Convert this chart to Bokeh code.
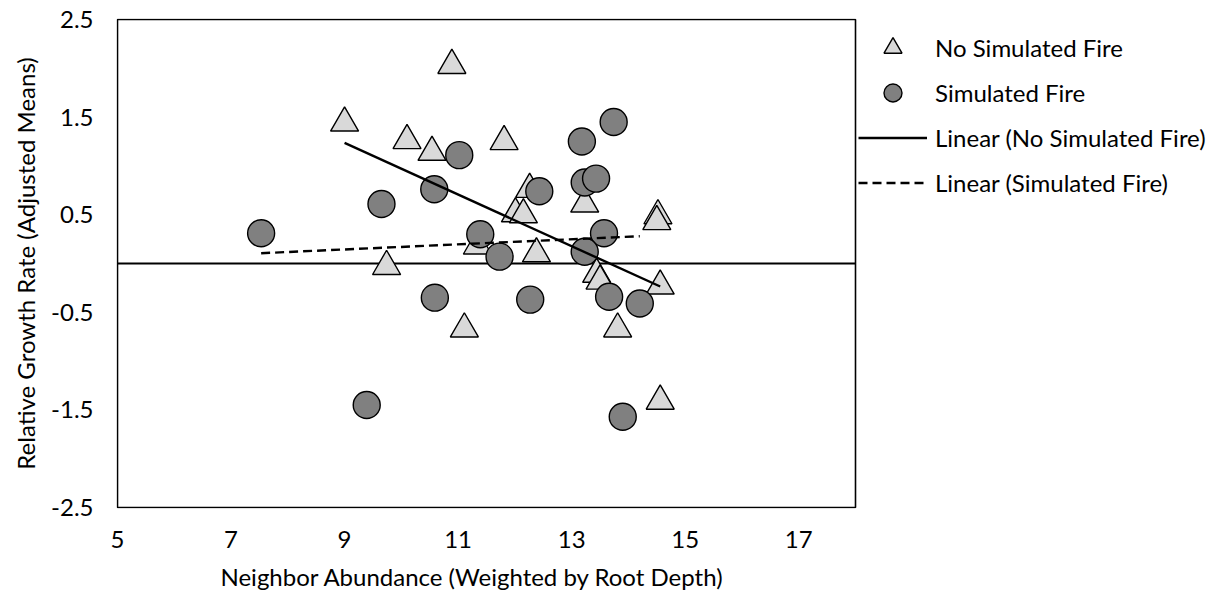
import numpy as np
from bokeh.plotting import figure
from bokeh.models import (Range1d, FixedTicker, Legend, LegendItem, BoxAnnotation,
                          Title, PrintfTickFormatter)
from bokeh.embed import file_html
from bokeh.resources import INLINE

# ---- data ----
no_fire_x = [9.00, 10.89, 10.10, 10.54, 11.81, 9.74, 11.11, 12.38, 11.34, 12.26,
             12.01, 12.15, 13.23, 14.52, 14.50, 13.44, 13.50, 14.56, 13.81, 14.56]
no_fire_y = [1.44, 2.03, 1.26, 1.14, 1.25, -0.03, -0.67, 0.10, 0.18, 0.76,
             0.51, 0.50, 0.61, 0.49, 0.43, -0.11, -0.18, -0.23, -0.67, -1.41]

fire_x = [7.53, 9.65, 10.58, 11.02, 11.39, 11.73, 12.43, 10.59, 12.27, 9.39,
          13.18, 13.74, 13.23, 13.43, 13.57, 13.23, 13.66, 14.20, 13.90]
fire_y = [0.31, 0.61, 0.76, 1.11, 0.30, 0.07, 0.74, -0.35, -0.37, -1.45,
          1.25, 1.45, 0.83, 0.87, 0.31, 0.12, -0.34, -0.41, -1.57]

X_MIN, X_MAX = 5, 18
Y_MIN, Y_MAX = -2.5, 2.5
x_ticks = [5, 7, 9, 11, 13, 15, 17]
y_ticks = [-2.5, -1.5, -0.5, 0.5, 1.5, 2.5]

labels = ["No Simulated Fire", "Simulated Fire",
          "Linear (No Simulated Fire)", "Linear (Simulated Fire)"]
x_title = "Neighbor Abundance (Weighted by Root Depth)"
y_title = "Relative Growth Rate (Adjusted Means)"

FONT = "Lato"
FS = "24px"

W, H = 1211, 601
LEFT = 116
# pixel geometry of the plot box (box is 738 x 488 px)
PX_X = 738 / (X_MAX - X_MIN)
PX_Y = 488 / (Y_MAX - Y_MIN)
FRAME_W = W - LEFT
x_start = X_MIN - 1 / PX_X
x_end = x_start + FRAME_W / PX_X
pad_y = 1 / PX_Y

p = figure(width=W, height=H, output_backend="svg", toolbar_location=None,
           x_range=Range1d(x_start, x_end),
           y_range=Range1d(Y_MIN - pad_y, Y_MAX + pad_y),
           min_border_left=LEFT, min_border_top=18, min_border_bottom=93,
           min_border_right=0, title=None)
p.background_fill_color = "white"
p.border_fill_color = "white"
p.outline_line_color = None
p.xgrid.visible = False
p.ygrid.visible = False

for ax in (p.xaxis[0], p.yaxis[0]):
    ax.axis_line_color = None
    ax.major_tick_out = 0
    ax.major_tick_in = 0
    ax.minor_tick_out = 0
    ax.minor_tick_in = 0
    ax.major_label_text_font = FONT
    ax.major_label_text_font_size = FS
    ax.major_label_text_color = "black"
    ax.axis_label_text_font = FONT
    ax.axis_label_text_font_size = FS
    ax.axis_label_text_font_style = "normal"
    ax.axis_label_text_color = "black"

p.xaxis.ticker = FixedTicker(ticks=x_ticks)
p.yaxis.ticker = FixedTicker(ticks=y_ticks)
p.xaxis.formatter = PrintfTickFormatter(format="%d")
p.yaxis.formatter = PrintfTickFormatter(format="%.1f")
p.xaxis.axis_label = None
p.yaxis.axis_label = y_title
p.xaxis.major_label_standoff = 22
p.yaxis.major_label_standoff = 23
p.yaxis.axis_label_standoff = 8

xt = Title(text=x_title, align="left", offset=104, standoff=18,
           text_font=FONT, text_font_size=FS, text_font_style="normal",
           text_color="black")
p.add_layout(xt, "below")

# plot box and zero line
box = BoxAnnotation(left=X_MIN, right=X_MAX, bottom=Y_MIN, top=Y_MAX,
                    fill_alpha=0, line_color="black", line_alpha=1.0, line_width=1.6)
p.add_layout(box)
p.segment(x0=[X_MIN], y0=[0], x1=[X_MAX], y1=[0], line_color="black", line_width=1.8)

r_tri = p.scatter(no_fire_x, no_fire_y, marker="triangle", size=28,
                  fill_color="#d9d9d9", line_color="black", line_width=1.4)
r_cir = p.scatter(fire_x, fire_y, marker="circle", size=27,
                  fill_color="#808080", line_color="black", line_width=1.4)

# linear trend lines (least squares on each series, over its x range)
m1, b1 = np.polyfit(no_fire_x, no_fire_y, 1)
tx1 = [min(no_fire_x), max(no_fire_x)]
r_l1 = p.line(tx1, [m1 * v + b1 for v in tx1], line_color="black", line_width=2.4)
m2, b2 = np.polyfit(fire_x, fire_y, 1)
tx2 = [min(fire_x), max(fire_x)]
r_l2 = p.line(tx2, [m2 * v + b2 for v in tx2], line_color="black", line_width=2.4,
              line_dash="9 5")

legend = Legend(items=[LegendItem(label=labels[0], renderers=[r_tri]),
                       LegendItem(label=labels[1], renderers=[r_cir]),
                       LegendItem(label=labels[2], renderers=[r_l1]),
                       LegendItem(label=labels[3], renderers=[r_l2])],
                location=(742, 303), glyph_width=69, glyph_height=45, spacing=0,
                label_standoff=8, padding=0, margin=0,
                border_line_alpha=0, background_fill_alpha=0,
                label_text_font=FONT, label_text_font_size=FS,
                label_text_color="black")
p.add_layout(legend)

open("out.html", "w").write(file_html(p, INLINE))
